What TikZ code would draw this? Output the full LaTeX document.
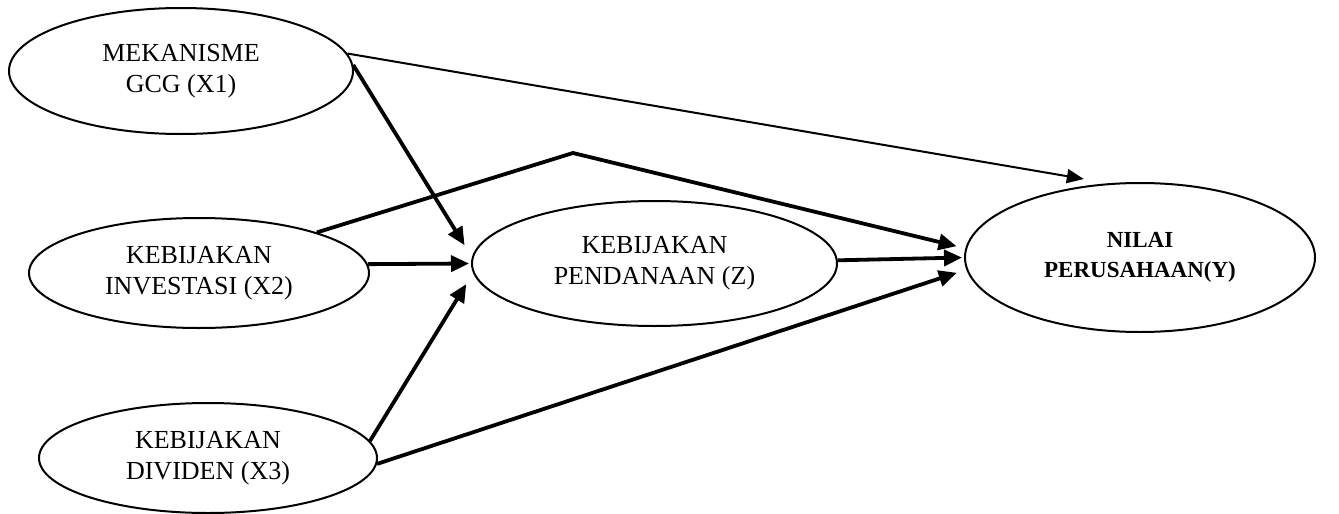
\documentclass[tikz,border=0pt]{standalone}
\usepackage{fontspec}
\setmainfont{Liberation Serif}
\usetikzlibrary{shapes.geometric,arrows.meta}
\begin{document}
\begin{tikzpicture}[x=1pt,y=-1pt,
  var/.style={ellipse,draw,line width=2pt,inner sep=0pt,align=center,
    font=\fontsize{26}{31}\selectfont},
  thin/.style={line width=2pt,-{Triangle[length=17pt,width=14pt]}},
  thick/.style={line width=3.8pt,-{Triangle[length=18pt,width=16pt]}}]
\useasboundingbox (0,0) rectangle (1339,514);
\node[var,minimum width=344pt,minimum height=126pt] (x1) at (181,71) {MEKANISME\\GCG (X1)};
\node[var,minimum width=340pt,minimum height=110pt] (x2) at (199,273) {KEBIJAKAN\\INVESTASI (X2)};
\node[var,minimum width=338pt,minimum height=110pt] (x3) at (208,458) {KEBIJAKAN\\DIVIDEN (X3)};
\node[var,minimum width=365pt,minimum height=125pt] (z) at (654.5,263.5) {KEBIJAKAN\\PENDANAAN (Z)};
\node[var,minimum width=350pt,minimum height=149pt,font=\fontsize{23}{30}\selectfont\bfseries] (y) at (1140,257.5) {NILAI\\PERUSAHAAN(Y)};
\coordinate (bend) at (573,153);
\draw[thin,shorten >=25pt] (x1.6) -- (y.113.8);
\draw[thick,shorten >=14pt] (x1.2) -- (z.178);
\draw[thick,shorten >=2pt] (x2.3) -- (z.180);
\draw[thick,shorten >=13pt] (x3.6) -- (z.183);
\draw[thick,shorten >=9pt] (x2.19) -- (bend) -- (y.177.6);
\draw[thick,shorten >=2pt] (z.1) -- (y.180);
\draw[thick,shorten >=10pt] (x3.-2) -- (y.184.8);
\end{tikzpicture}
\end{document}
